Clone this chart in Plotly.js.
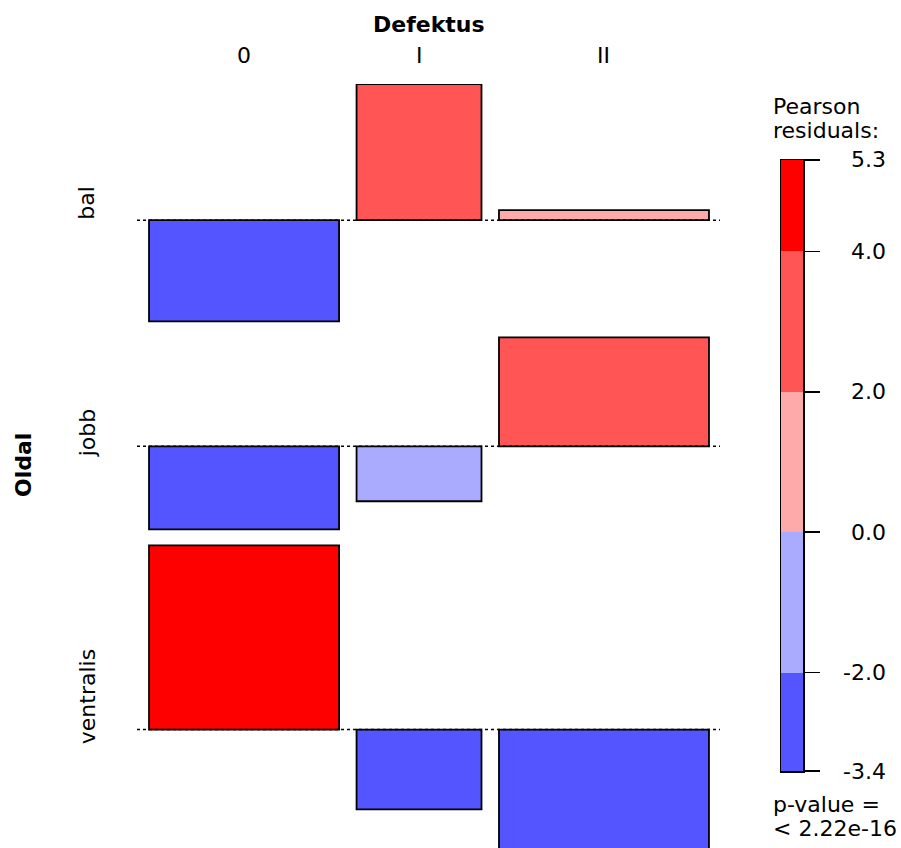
<!DOCTYPE html>
<html>
<head>
<meta charset="utf-8">
<script src="https://cdn.plot.ly/plotly-3.0.1.min.js"></script>
<style>html,body{margin:0;padding:0;background:#fff;}#chart{width:901px;height:848px;}</style>
</head>
<body>
<div id="chart"></div>
<script>
// ---- data ----
const rowTitle = 'Oldal';
const colTitle = 'Defektus';
const rowLabels = ['bal', 'jobb', 'ventralis'];
const colLabels = ['0', 'I', 'II'];
// Pearson residuals, rows x columns
const residuals = [
  [-2.91, 3.92, 0.29],
  [-2.39, -1.58, 3.14],
  [5.30, -2.30, -3.44]
];
// relative column widths (proportional to sqrt of expected)
const colWidths = [0.362, 0.238, 0.400];
const legendBreaks = [-3.4, -2.0, 0.0, 2.0, 4.0, 5.3];
const legendTickText = ['-3.4', '-2.0', '0.0', '2.0', '4.0', '5.3'];
const pValueText = ['p-value =', '< 2.22e-16'];

// ---- style ----
const W = 901, H = 848;
const segColors = ['#5555FF', '#AAAAFF', '#FFAAAA', '#FF5555', '#FF0000'];
const FONT = 'DejaVu Sans, Liberation Sans, sans-serif';
const FS = 22;
const colGap = 0.0333, padL = 0.0229, padR = 0.021;
const rowGap = 0.46;
const px = v => v / W, py = v => 1 - v / H;

function colorFor(r) {
  for (let i = 0; i < segColors.length; i++) {
    if (r < legendBreaks[i + 1]) return segColors[i];
  }
  return segColors[segColors.length - 1];
}

// column positions
const colCenters = [];
let cx = padL;
colWidths.forEach((w, j) => {
  colCenters.push(cx + w / 2);
  cx += w + (j < colWidths.length - 1 ? colGap : 0);
});
const xMax = cx + padR;

// row baselines
const baselines = [], rowCenters = [];
let cursor = 0;
residuals.forEach(row => {
  const maxPos = Math.max(0, ...row);
  const maxNeg = Math.max(0, ...row.map(v => -v));
  const b = cursor - maxPos;
  baselines.push(b);
  rowCenters.push(b + (maxPos - maxNeg) / 2);
  cursor = b - maxNeg - rowGap;
});
const yMin = cursor + rowGap + 0.03;

const traces = [];
// dotted baselines
baselines.forEach(b => {
  traces.push({
    type: 'scatter', mode: 'lines', x: [0, xMax], y: [b, b],
    line: {color: '#000', width: 1.5, dash: 'dot'}, hoverinfo: 'skip', showlegend: false
  });
});
// bars
const bx = [], by = [], bbase = [], bw = [], bc = [];
residuals.forEach((row, i) => {
  row.forEach((r, j) => {
    bx.push(colCenters[j]); by.push(r); bbase.push(baselines[i]);
    bw.push(colWidths[j]); bc.push(colorFor(r));
  });
});
traces.push({
  type: 'bar', x: bx, y: by, base: bbase, width: bw,
  marker: {color: bc, line: {color: '#000', width: 1.8}},
  showlegend: false, hoverinfo: 'skip'
});
// legend bar
const lgBase = legendBreaks.slice(0, -1);
const lgLen = lgBase.map((b, i) => legendBreaks[i + 1] - b);
traces.push({
  type: 'bar', x: lgBase.map(() => 0), y: lgLen, base: lgBase, width: lgBase.map(() => 1),
  xaxis: 'x2', yaxis: 'y2',
  marker: {color: segColors, line: {width: 0}}, showlegend: false, hoverinfo: 'skip'
});

const annotations = [];
const txt = (o) => Object.assign({showarrow: false, font: {family: FONT, size: FS, color: '#000'}}, o);
annotations.push(txt({text: '<b>' + colTitle + '</b>', xref: 'paper', yref: 'paper', x: px(428.5), y: py(25), xanchor: 'center', yanchor: 'middle'}));
colLabels.forEach((c, j) => annotations.push(txt({text: c, xref: 'x', yref: 'paper', x: colCenters[j], y: py(55), xanchor: 'center', yanchor: 'middle'})));
annotations.push(txt({text: '<b>' + rowTitle + '</b>', xref: 'paper', yref: 'paper', x: px(24), y: py(465), textangle: -90, xanchor: 'center', yanchor: 'middle'}));
rowLabels.forEach((r, i) => annotations.push(txt({text: r, xref: 'paper', yref: 'y', x: px(87), y: rowCenters[i], textangle: -90, xanchor: 'center', yanchor: 'middle'})));
annotations.push(txt({text: 'Pearson', xref: 'paper', yref: 'paper', x: px(771), y: py(107), xanchor: 'left', yanchor: 'middle'}));
annotations.push(txt({text: 'residuals:', xref: 'paper', yref: 'paper', x: px(771), y: py(130), xanchor: 'left', yanchor: 'middle'}));
legendBreaks.forEach((b, i) => annotations.push(txt({text: legendTickText[i], xref: 'paper', yref: 'y2', x: px(888), y: b, xanchor: 'right', yanchor: 'middle'})));
annotations.push(txt({text: pValueText[0], xref: 'paper', yref: 'paper', x: px(771), y: py(804), xanchor: 'left', yanchor: 'middle'}));
annotations.push(txt({text: pValueText[1], xref: 'paper', yref: 'paper', x: px(771), y: py(828), xanchor: 'left', yanchor: 'middle'}));

const hidden = {showgrid: false, zeroline: false, showticklabels: false, ticks: '', showline: false, fixedrange: true};
const layout = {
  width: W, height: H,
  margin: {l: 0, r: 0, t: 0, b: 0},
  paper_bgcolor: '#fff', plot_bgcolor: 'rgba(0,0,0,0)',
  barmode: 'overlay', bargap: 0,
  showlegend: false,
  xaxis: Object.assign({}, hidden, {domain: [px(137), px(720)], range: [0, xMax]}),
  yaxis: Object.assign({}, hidden, {domain: [0, py(84)], range: [yMin, 0]}),
  xaxis2: {domain: [px(781), px(803)], range: [-0.5, 0.5], anchor: 'y2', showgrid: false, zeroline: false,
    showticklabels: false, ticks: '', showline: true, mirror: true, linecolor: '#000', linewidth: 1.5, fixedrange: true},
  yaxis2: {domain: [py(771), py(160)], range: [legendBreaks[0], legendBreaks[legendBreaks.length - 1]], anchor: 'x2', side: 'right',
    showgrid: false, zeroline: false, showticklabels: false, tickmode: 'array', tickvals: legendBreaks,
    ticks: 'outside', ticklen: 15, tickwidth: 1.5, tickcolor: '#000',
    showline: true, mirror: true, linecolor: '#000', linewidth: 1.5, fixedrange: true},
  annotations: annotations
};
Plotly.newPlot('chart', traces, layout, {displayModeBar: false, staticPlot: true});
</script>
</body>
</html>
